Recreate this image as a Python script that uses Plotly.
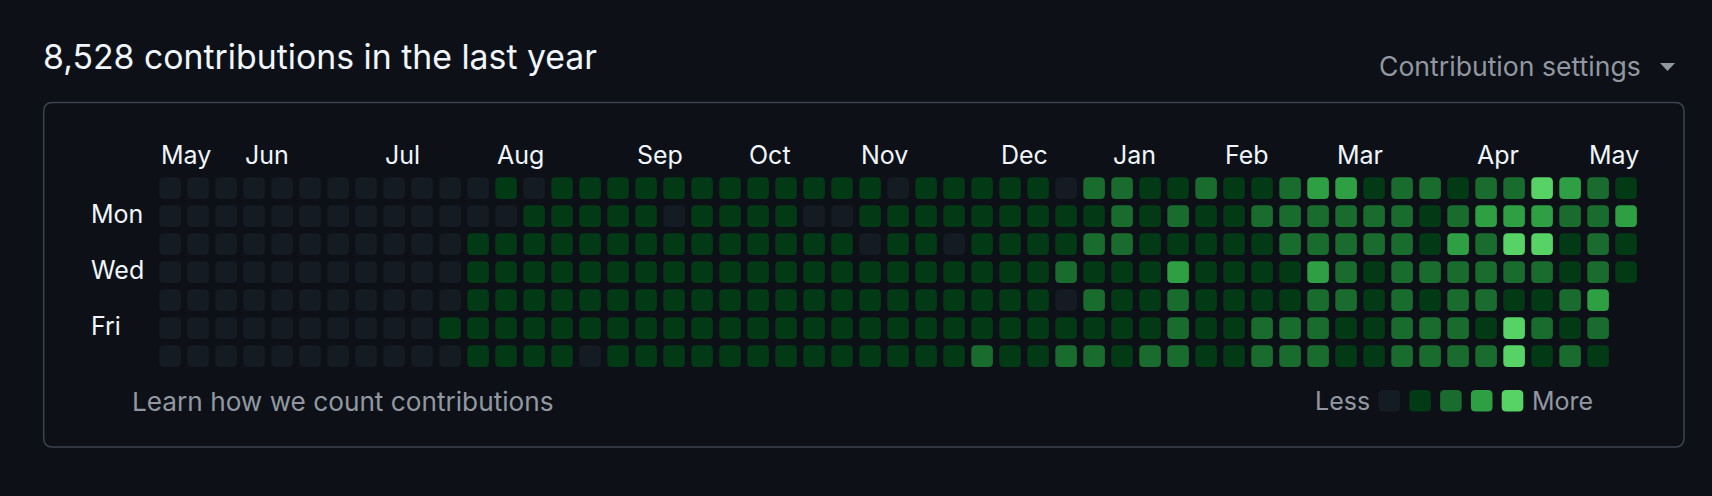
import plotly.graph_objects as go

# ---------------- data ----------------
# contribution level (0-4) per week column, one list per weekday row
sun = [0,0,0,0,0,0,0,0,0,0, 0,0,1,0,1,1,1,1,1,1, 1,1,1,1,1,1,0,1,1,1, 1,1,0,2,2,1,1,2,1,1, 2,3,3,1,2,2,1,2,2,4, 3,2,1]
mon = [0,0,0,0,0,0,0,0,0,0, 0,0,0,1,1,1,1,1,0,1, 1,1,1,0,0,1,1,1,1,1, 1,1,1,1,2,1,2,1,1,2, 2,2,2,2,2,1,2,3,3,3, 2,2,3]
tue = [0,0,0,0,0,0,0,0,0,0, 0,1,1,1,1,1,1,1,1,1, 1,1,1,1,1,0,1,1,0,1, 1,1,1,2,2,1,1,1,1,1, 2,2,2,2,2,1,3,2,4,4, 1,2,1]
wed = [0,0,0,0,0,0,0,0,0,0, 0,1,1,1,1,1,1,1,1,1, 1,1,1,1,1,1,1,1,1,1, 1,1,2,1,1,1,3,1,1,1, 1,3,2,1,2,2,2,2,2,2, 1,2,1]
thu = [0,0,0,0,0,0,0,0,0,0, 0,1,1,1,1,1,1,1,1,1, 1,1,1,1,1,1,1,1,1,1, 1,1,0,2,1,1,2,1,1,1, 1,2,2,1,2,1,2,2,1,1, 2,3]
fri = [0,0,0,0,0,0,0,0,0,0, 1,1,1,1,1,1,1,1,1,1, 1,1,1,1,1,1,1,1,1,1, 1,1,1,1,1,1,2,1,1,2, 2,2,1,1,2,2,2,1,4,2, 1,2]
sat = [0,0,0,0,0,0,0,0,0,0, 0,1,1,1,1,0,1,1,1,1, 1,1,1,1,1,1,1,1,1,2, 1,1,2,2,1,2,2,1,1,2, 2,2,1,1,2,2,2,2,4,1, 2,1]

weekday_rows = [sun, mon, tue, wed, thu, fri, sat]
day_labels = ["", "Mon", "", "Wed", "", "Fri", ""]

month_labels = ["May", "Jun", "Jul", "Aug", "Sep", "Oct", "Nov", "Dec", "Jan", "Feb", "Mar", "Apr", "May"]
month_weeks = [0, 3, 8, 12, 17, 21, 25, 30, 34, 38, 42, 47, 51]

legend_levels = [0, 1, 2, 3, 4]
total_text = "8,528 contributions in the last year"

# ---------------- style ----------------
W, H = 1712, 496
BG = "#0d1117"
LEVEL_COLORS = ["#151b23", "#033a16", "#196c2e", "#2ea043", "#56d364"]
FONT = "Inter, Roboto, sans-serif"
TXT = "#f0f6fc"
MUTED = "#9198a1"
BORDER = "#3d444d"

PITCH = 28.0          # px per week / per day
CELL = 21.6           # px cell size
RAD = 4.5             # px corner radius
X0 = 159.3            # left edge of first column (px)
Y0 = 177.3            # top edge of first row (px)

n_weeks = len(sun)
x_lo = X0 + CELL / 2 - PITCH / 2
x_hi = x_lo + PITCH * n_weeks
y_lo = Y0 + CELL / 2 - PITCH / 2
y_hi = y_lo + PITCH * 7


def px(x):
    return x / W


def py(y):
    return 1 - y / H


def rounded_path(x0, y0, x1, y1, r):
    return (f"M{x0+r},{y0} L{x1-r},{y0} Q{x1},{y0} {x1},{y0+r} "
            f"L{x1},{y1-r} Q{x1},{y1} {x1-r},{y1} L{x0+r},{y1} "
            f"Q{x0},{y1} {x0},{y1-r} L{x0},{y0+r} Q{x0},{y0} {x0+r},{y0} Z")


fig = go.Figure()
shapes = []
annotations = []

# ---------------- cells (data coordinates) ----------------
hx, hy, hr = [], [], []
half = CELL / PITCH / 2
r_d = RAD / PITCH
for d, row in enumerate(weekday_rows):
    for w, lvl in enumerate(row):
        shapes.append(dict(
            type="path", xref="x", yref="y",
            path=rounded_path(w - half, d - half, w + half, d + half, r_d),
            fillcolor=LEVEL_COLORS[lvl], line=dict(width=0), layer="above"))
        hx.append(w)
        hy.append(d)
        hr.append(f"week {w + 1}, level {lvl}")

fig.add_trace(go.Scatter(
    x=hx, y=hy, mode="markers", hovertext=hr, hoverinfo="text",
    marker=dict(size=20, color="rgba(0,0,0,0)"), showlegend=False))

# ---------------- month labels ----------------
for name, wk in zip(month_labels, month_weeks):
    annotations.append(dict(
        x=wk - half, y=py(155), xref="x", yref="paper", text=name,
        xanchor="left", yanchor="middle", showarrow=False,
        font=dict(family=FONT, size=25, color=TXT)))

# ---------------- day labels ----------------
for d, name in enumerate(day_labels):
    if name:
        annotations.append(dict(
            x=px(89), y=d - 0.07, xref="paper", yref="y", text=name,
            xanchor="left", yanchor="middle", showarrow=False,
            font=dict(family=FONT, size=25, color=TXT)))

# ---------------- header ----------------
annotations.append(dict(
    x=px(41), y=py(57), xref="paper", yref="paper", text=total_text,
    xanchor="left", yanchor="middle", showarrow=False,
    font=dict(family=FONT, size=33.8, color=TXT)))
annotations.append(dict(
    x=px(1643), y=py(66), xref="paper", yref="paper", text="Contribution settings",
    xanchor="right", yanchor="middle", showarrow=False,
    font=dict(family=FONT, size=26.6, color=MUTED)))
shapes.append(dict(
    type="path", xref="paper", yref="paper",
    path=f"M{px(1660)},{py(63)} L{px(1675)},{py(63)} L{px(1667.5)},{py(71)} Z",
    fillcolor=MUTED, line=dict(width=0)))

# ---------------- box ----------------
bx0, by0, bx1, by1, br = 43.7, 102.6, 1684.0, 447.0, 9
shapes.append(dict(
    type="path", xref="paper", yref="paper", layer="below",
    path=(f"M{px(bx0+br)},{py(by0)} L{px(bx1-br)},{py(by0)} Q{px(bx1)},{py(by0)} {px(bx1)},{py(by0+br)} "
          f"L{px(bx1)},{py(by1-br)} Q{px(bx1)},{py(by1)} {px(bx1-br)},{py(by1)} L{px(bx0+br)},{py(by1)} "
          f"Q{px(bx0)},{py(by1)} {px(bx0)},{py(by1-br)} L{px(bx0)},{py(by0+br)} Q{px(bx0)},{py(by0)} {px(bx0+br)},{py(by0)} Z"),
    line=dict(color=BORDER, width=1.5), fillcolor="rgba(0,0,0,0)"))

# ---------------- footer ----------------
annotations.append(dict(
    x=px(130), y=py(401), xref="paper", yref="paper", text="Learn how we count contributions",
    xanchor="left", yanchor="middle", showarrow=False,
    font=dict(family=FONT, size=26.2, color=MUTED)))

LEG_X0, LEG_PITCH, LEG_Y = 1378.5, 30.8, 390.0
for i, lvl in enumerate(legend_levels):
    lx = LEG_X0 + i * LEG_PITCH
    shapes.append(dict(
        type="path", xref="paper", yref="paper",
        path=(f"M{px(lx+RAD)},{py(LEG_Y)} L{px(lx+CELL-RAD)},{py(LEG_Y)} Q{px(lx+CELL)},{py(LEG_Y)} {px(lx+CELL)},{py(LEG_Y+RAD)} "
              f"L{px(lx+CELL)},{py(LEG_Y+CELL-RAD)} Q{px(lx+CELL)},{py(LEG_Y+CELL)} {px(lx+CELL-RAD)},{py(LEG_Y+CELL)} "
              f"L{px(lx+RAD)},{py(LEG_Y+CELL)} Q{px(lx)},{py(LEG_Y+CELL)} {px(lx)},{py(LEG_Y+CELL-RAD)} "
              f"L{px(lx)},{py(LEG_Y+RAD)} Q{px(lx)},{py(LEG_Y)} {px(lx+RAD)},{py(LEG_Y)} Z"),
        fillcolor=LEVEL_COLORS[lvl], line=dict(width=0)))
annotations.append(dict(
    x=px(LEG_X0 - 7), y=py(LEG_Y + CELL / 2), xref="paper", yref="paper", text="Less",
    xanchor="right", yanchor="middle", showarrow=False,
    font=dict(family=FONT, size=25, color=MUTED)))
annotations.append(dict(
    x=px(LEG_X0 + 4 * LEG_PITCH + CELL + 7), y=py(LEG_Y + CELL / 2), xref="paper", yref="paper", text="More",
    xanchor="left", yanchor="middle", showarrow=False,
    font=dict(family=FONT, size=25, color=MUTED)))

fig.update_layout(
    width=W, height=H, margin=dict(l=0, r=0, t=0, b=0),
    paper_bgcolor=BG, plot_bgcolor=BG,
    shapes=shapes, annotations=annotations, showlegend=False,
    xaxis=dict(domain=[px(x_lo), px(x_hi)], range=[-0.5, n_weeks - 0.5],
               visible=False, fixedrange=True),
    yaxis=dict(domain=[py(y_hi), py(y_lo)], range=[6.5, -0.5],
               visible=False, fixedrange=True),
    hoverlabel=dict(font=dict(family=FONT)),
)

fig.write_html("out.html")
